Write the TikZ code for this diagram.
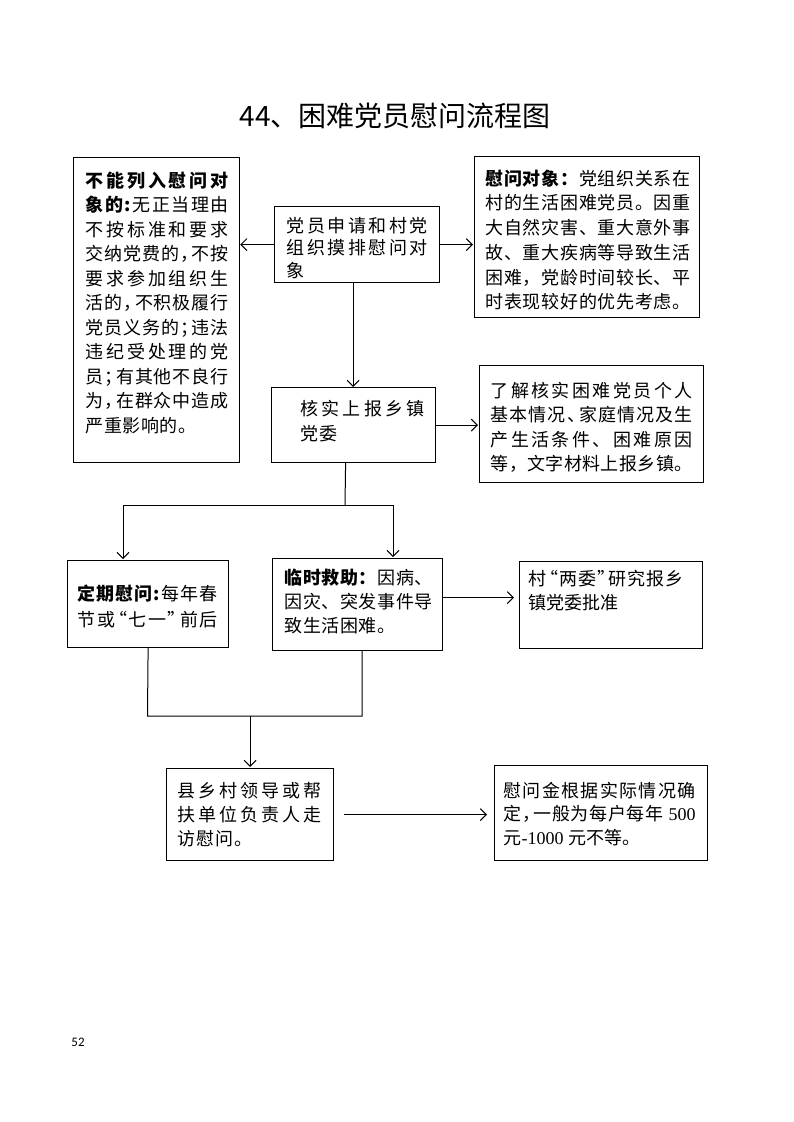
\documentclass[tikz,border=0pt]{standalone}
\usepackage{fontspec}
\setmainfont{Noto Sans CJK SC}
\newfontfamily\lat{Liberation Serif}
\newfontfamily\pgfont{Carlito}
\usetikzlibrary{arrows.meta}
\makeatletter
% justified line: width, bold chars, normal chars
\newcommand\Jline[3]{\strut\makebox[#1pt][l]{\@tfor\x:=#2\do{\textbf{\x}\hfill}\@tfor\x:=#3\do{{\x}\hfill}\unskip}}
% natural line: gap, bold chars, normal chars
\newcommand\Nline[3]{\strut\@tfor\x:=#2\do{\textbf{\x}\kern#1pt}\@tfor\x:=#3\do{{\x}\kern#1pt}}
\makeatother
% narrowed punctuation
\newcommand\pL[1]{\makebox[0.6em][l]{#1}}
\newcommand\pR[1]{\makebox[0.6em][r]{#1}}
% box content: width, height, left pad, top space, baselineskip, lines
\newcommand\bx[6]{\parbox[c][#2pt][t]{#1pt}{\fontsize{18pt}{#5pt}\selectfont\setlength\leftskip{#3pt}\vspace*{#4pt}#6}}
\tikzset{
  box/.style={draw, line width=1.2pt, inner sep=0pt, anchor=north west},
  ln/.style={line width=1pt},
  arr/.style={line width=1pt, -{Straight Barb[length=6pt,width=12pt,line width=1pt]}}
}
\begin{document}
\begin{tikzpicture}[x=1pt,y=-1pt]
\useasboundingbox[fill=white] (0,0) rectangle (793,1122);
\node (title) at (395,116) {\fontsize{28pt}{32pt}\selectfont 44、困难党员慰问流程图};

\node[box] (left) at (73,157) {\bx{166}{305}{12}{12.5}{24.5}{%
\Jline{143}{不能列入慰问对}{}\\
\Jline{143}{象的:}{无正当理由}\\
\Jline{143}{}{不按标准和要求}\\
\Jline{143}{}{交纳党费的{\pL，}不按}\\
\Jline{143}{}{要求参加组织生}\\
\Jline{143}{}{活的{\pL，}不积极履行}\\
\Jline{143}{}{党员义务的{\pL；}违法}\\
\Jline{143}{}{违纪受处理的党}\\
\Jline{143}{}{员{\pL；}有其他不良行}\\
\Jline{143}{}{为{\pL，}在群众中造成}\\
\Nline{0.5}{}{严重影响的。}}};

\node[box] (top) at (274,206) {\bx{165}{76}{12}{10.6}{21.5}{%
\Jline{141}{}{党员申请和村党}\\
\Jline{141}{}{组织摸排慰问对}\\
\Nline{3}{}{象}}};

\node[box] (rt) at (474,156) {\bx{225}{161}{11}{11.4}{24.7}{%
\Jline{205}{慰问对象：}{党组织关系在}\\
\Jline{205}{}{村的生活困难党员。因重}\\
\Jline{205}{}{大自然灾害、重大意外事}\\
\Jline{205}{}{故、重大疾病等导致生活}\\
\Jline{205}{}{困难，党龄时间较长、平}\\
\Jline{205}{}{时表现较好的优先考虑。}}};

\node[box] (core) at (271,387) {\bx{164}{75}{29}{10.2}{25}{%
\Jline{124}{}{核实上报乡镇}\\
\Nline{1}{}{党委}}};

\node[box] (r2) at (479,365) {\bx{224}{117}{11}{14.5}{24.5}{%
\Jline{202}{}{了解核实困难党员个人}\\
\Jline{202}{}{基本情况{\pL、}家庭情况及生}\\
\Jline{202}{}{产生活条件、困难原因}\\
\Jline{202}{}{等，文字材料上报乡镇。}}};

\node[box] (ding) at (67,560) {\bx{161}{87}{10}{21.4}{26}{%
\Jline{140}{定期慰问:}{每年春}\\
\Jline{140}{}{节或{\pR“}七一{\pL”}前后}}};

\node[box] (lin) at (272,558) {\bx{170}{92}{12}{8.9}{24}{%
\Jline{148}{临时救助：}{因病、}\\
\Jline{148}{}{因灾、突发事件导}\\
\Nline{0.5}{}{致生活困难。}}};

\node[box] (cun) at (519,561) {\bx{183}{87}{9}{6.9}{24}{%
\Jline{155}{}{村{\pR“}两委{\pL”}研究报乡}\\
\Nline{0}{}{镇党委批准}}};

\node[box] (xian) at (166,768) {\bx{167}{92}{11}{11.9}{24}{%
\Jline{144}{}{县乡村领导或帮}\\
\Jline{144}{}{扶单位负责人走}\\
\Nline{1}{}{访慰问。}}};

\node[box] (wei) at (494,765) {\bx{213}{95}{9}{15.2}{23.5}{%
\Jline{192}{}{慰问金根据实际情况确}\\
\Jline{192}{}{定{\pL，}一般为每户每年{\lat\ 500}}\\
\Nline{0}{}{元{\lat -1000\ }元不等。}}};

\node (page) at (78,1042) {\pgfont\fontsize{13pt}{15pt}\selectfont 52};

% connectors
\draw[arr] (top.west) -- (top.west -| left.east);
\draw[arr, shorten >=1pt] (top.east) -- (top.east -| rt.west);
\draw[arr] ([xshift=-4pt]top.south) -- ([xshift=-4pt]top.south |- core.north);
\draw[arr, shorten >=1pt] (core.east) -- (core.east -| r2.west);

\coordinate (j) at (345,505);
\coordinate (jl) at (123,505);
\coordinate (jr) at (393,505);
\draw[ln] ([xshift=-8pt]core.south) -- (j);
\draw[ln] (jl) -- (jr);
\draw[arr, shorten >=1pt] (jl) -- (jl |- ding.north);
\draw[arr, shorten >=1pt] (jr) -- (jr |- lin.north);

\draw[arr, shorten >=5pt] ([yshift=7pt]lin.east) -- ([yshift=7pt]lin.east -| cun.west);

\coordinate (ml) at (147.5,716);
\coordinate (mr) at (362,716);
\draw[ln] (ding.south) -- (ml) -- (mr) -- (mr |- lin.south);
\draw[arr, shorten >=1pt] (xian.north |- ml) -- (xian.north);

\draw[arr, shorten <=10pt, shorten >=7pt] (xian.east) -- (xian.east -| wei.west);
\end{tikzpicture}
\end{document}
